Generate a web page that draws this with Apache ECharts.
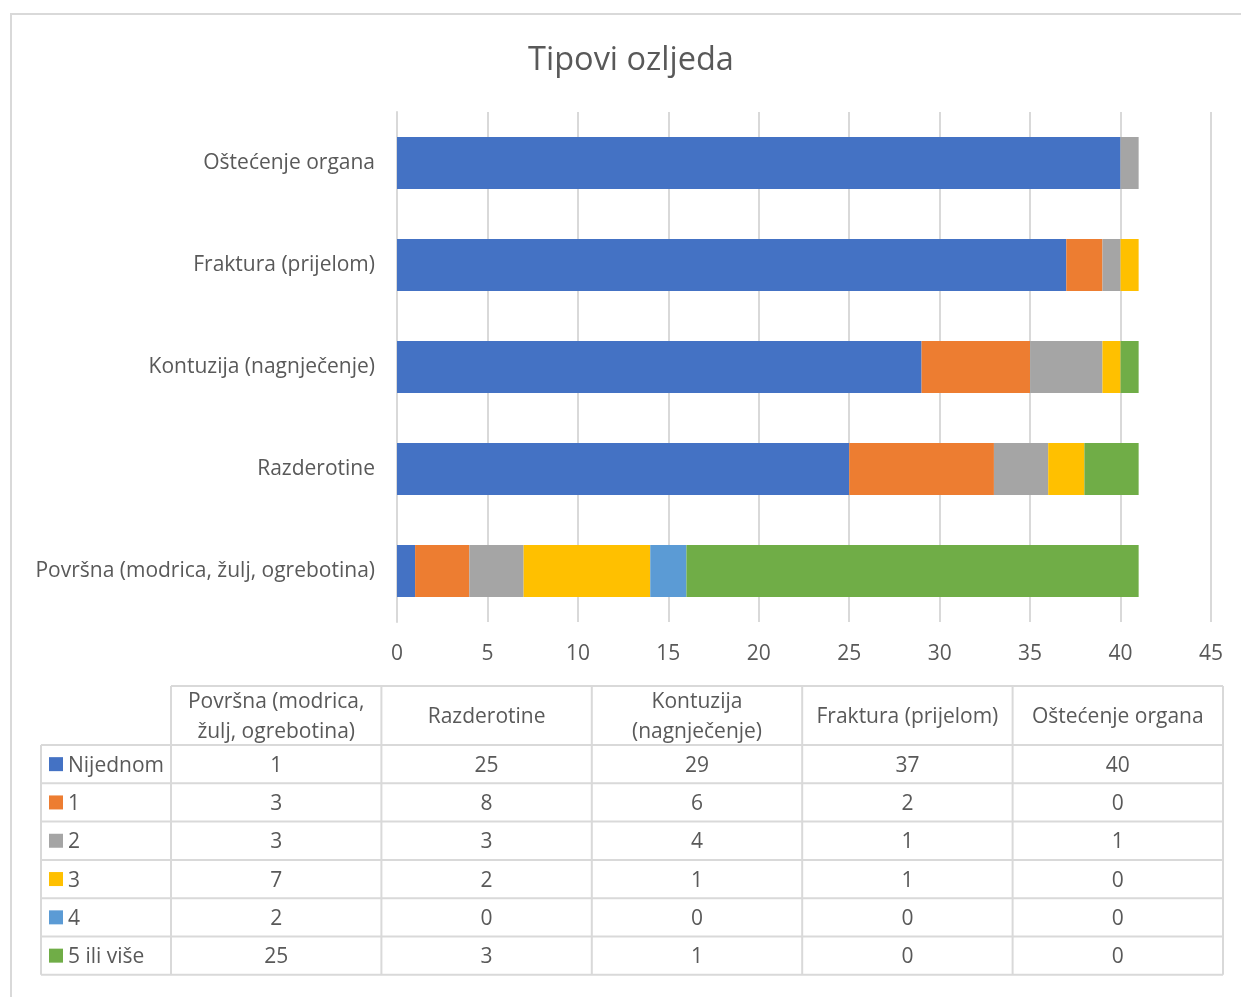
<!DOCTYPE html>
<html>
<head>
<meta charset="utf-8">
<script src="https://cdn.jsdelivr.net/npm/echarts@6/dist/echarts.min.js"></script>
<style>
html,body{margin:0;padding:0;background:#fff;}
#chart{width:1241px;height:997px;}
</style>
</head>
<body>
<div id="chart"></div>
<script>
const categories = ['Površna (modrica, žulj, ogrebotina)', 'Razderotine', 'Kontuzija (nagnječenje)', 'Fraktura (prijelom)', 'Oštećenje organa'];
const tableHeaders = ['Površna (modrica,\nžulj, ogrebotina)', 'Razderotine', 'Kontuzija\n(nagnječenje)', 'Fraktura (prijelom)', 'Oštećenje organa'];
const seriesNames = ['Nijednom', '1', '2', '3', '4', '5 ili više'];
const nijednom = [1, 25, 29, 37, 40];
const jedan = [3, 8, 6, 2, 0];
const dva = [3, 3, 4, 1, 1];
const tri = [7, 2, 1, 1, 0];
const cetiri = [2, 0, 0, 0, 0];
const petIliVise = [25, 3, 1, 0, 0];
const xMin = 0, xMax = 45, xStep = 5;

const seriesValues = [nijednom, jedan, dva, tri, cetiri, petIliVise];
const colors = ['#4472C4', '#ED7D31', '#A5A5A5', '#FFC000', '#5B9BD5', '#70AD47'];
const FONT = '"Open Sans", sans-serif';
const FS = 21;
const TXT = '#595959';
const LINE = '#d9d9d9';

const chart = echarts.init(document.getElementById('chart'), null, {renderer: 'canvas'});

// table layout
const tLeft = 41, tFirstColW = 130, colW = 210.4, headTop = 686, headH = 59, rowH = 38.3;
const tRight = tLeft + tFirstColW + colW * tableHeaders.length;
const bodyTop = headTop + headH;
const g = [];
// chart border
g.push({type: 'rect', shape: {x: 11, y: 14, width: 1260, height: 1010}, style: {fill: 'none', stroke: LINE, lineWidth: 2}, silent: true});
// header lines
g.push({type: 'line', shape: {x1: tLeft + tFirstColW, y1: headTop, x2: tRight, y2: headTop}, style: {stroke: LINE, lineWidth: 2}});
for (let r = 0; r <= seriesNames.length; r++) {
  const y = bodyTop + r * rowH;
  g.push({type: 'line', shape: {x1: tLeft, y1: y, x2: tRight, y2: y}, style: {stroke: LINE, lineWidth: 2}});
}
g.push({type: 'line', shape: {x1: tLeft, y1: bodyTop, x2: tLeft, y2: bodyTop + seriesNames.length * rowH}, style: {stroke: LINE, lineWidth: 2}});
for (let c = 0; c <= tableHeaders.length; c++) {
  const x = tLeft + tFirstColW + c * colW;
  g.push({type: 'line', shape: {x1: x, y1: headTop, x2: x, y2: bodyTop + seriesNames.length * rowH}, style: {stroke: LINE, lineWidth: 2}});
}
tableHeaders.forEach((h, c) => {
  g.push({type: 'text', x: tLeft + tFirstColW + (c + 0.5) * colW, y: headTop + headH / 2 + 2,
    style: {text: h, font: FS + 'px ' + FONT, fill: TXT, align: 'center', verticalAlign: 'middle', lineHeight: 30}});
});
seriesNames.forEach((n, r) => {
  const cy = bodyTop + (r + 0.5) * rowH;
  g.push({type: 'rect', shape: {x: tLeft + 8, y: cy - 7, width: 14, height: 14}, style: {fill: colors[r]}});
  g.push({type: 'text', x: tLeft + 27, y: cy + 1.5, style: {text: n, font: FS + 'px ' + FONT, fill: TXT, align: 'left', verticalAlign: 'middle'}});
  seriesValues[r].forEach((v, c) => {
    g.push({type: 'text', x: tLeft + tFirstColW + (c + 0.5) * colW, y: cy + 1.5,
      style: {text: String(v), font: FS + 'px ' + FONT, fill: TXT, align: 'center', verticalAlign: 'middle'}});
  });
});

const option = {
  backgroundColor: '#fff',
  animation: false,
  title: {text: 'Tipovi ozljeda', left: 626, top: 39, textAlign: 'center',
    textStyle: {fontFamily: FONT, fontSize: 32.5, fontWeight: 'normal', color: TXT}},
  grid: {left: 397, right: 30, top: 112, height: 510},
  xAxis: {type: 'value', min: xMin, max: xMax, interval: xStep,
    axisLine: {show: false}, axisTick: {show: false},
    splitLine: {show: true, lineStyle: {color: LINE, width: 2}},
    axisLabel: {color: TXT, fontFamily: FONT, fontSize: FS, margin: 22}},
  yAxis: {type: 'category', data: categories,
    axisLine: {show: true, lineStyle: {color: LINE, width: 2}}, axisTick: {show: false},
    axisLabel: {color: TXT, fontFamily: FONT, fontSize: FS, margin: 22, padding: [4, 0, 0, 0]}},
  series: seriesNames.map((n, i) => ({
    name: n, type: 'bar', stack: 'total', data: seriesValues[i],
    barWidth: 52, itemStyle: {color: colors[i]}
  })),
  graphic: g
};
chart.setOption(option);
</script>
</body>
</html>
